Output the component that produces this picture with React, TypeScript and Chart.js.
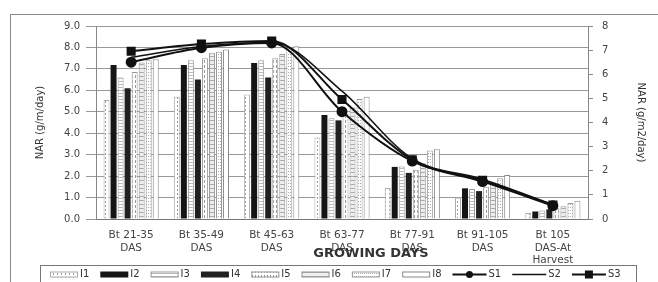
import React, { useEffect, useRef } from "react";
import { Chart, registerables } from "chart.js";
Chart.register(...registerables);

const categories: string[][] = [
  ["Bt 21-35", "DAS"],
  ["Bt 35-49", "DAS"],
  ["Bt 45-63", "DAS"],
  ["Bt 63-77", "DAS"],
  ["Bt 77-91", "DAS"],
  ["Bt 91-105", "DAS"],
  ["Bt 105", "DAS-At", "Harvest"],
];
const I1 = [5.55, 5.7, 5.8, 3.8, 1.45, 1.0, 0.28];
const I2 = [7.18, 7.18, 7.27, 4.85, 2.43, 1.43, 0.35];
const I3 = [6.6, 7.4, 7.4, 4.7, 2.45, 1.4, 0.4];
const I4 = [6.1, 6.5, 6.6, 4.6, 2.15, 1.3, 0.45];
const I5 = [6.85, 7.5, 7.5, 4.9, 2.3, 1.5, 0.5];
const I6 = [7.3, 7.75, 7.7, 5.2, 2.6, 1.7, 0.6];
const I7 = [7.4, 7.8, 8.0, 5.6, 3.2, 1.9, 0.75];
const I8 = [7.45, 7.9, 8.05, 5.7, 3.25, 2.05, 0.85];
const S1 = [6.5, 7.1, 7.3, 4.45, 2.4, 1.55, 0.55];
const S2 = [6.7, 7.15, 7.32, 5.3, 2.5, 1.65, 0.6];
const S3 = [6.95, 7.25, 7.38, 4.95, 2.45, 1.6, 0.58];
const leftTicks = [0, 1, 2, 3, 4, 5, 6, 7, 8, 9];
const rightTicks = [0, 1, 2, 3, 4, 5, 6, 7, 8];
const xTitle = "GROWING DAYS";
const yTitle = "NAR (g/m/day)";
const y1Title = "NAR (g/m2/day)";

const FONT = "'DejaVu Sans', sans-serif";

function makePattern(w: number, h: number, draw: (c: CanvasRenderingContext2D) => void) {
  const cv = document.createElement("canvas");
  cv.width = w;
  cv.height = h;
  const c = cv.getContext("2d")!;
  draw(c);
  return c.createPattern(cv, "repeat")!;
}

export default function App() {
  const ref = useRef<HTMLCanvasElement | null>(null);
  useEffect(() => {
    if (!ref.current) return;
    const pDots = makePattern(4, 4, (c) => {
      c.fillStyle = "#fff"; c.fillRect(0, 0, 4, 4);
      c.fillStyle = "#999"; c.fillRect(1, 1, 1, 2);
    });
    const pStripe = makePattern(4, 3, (c) => {
      c.fillStyle = "#fff"; c.fillRect(0, 0, 4, 3);
      c.fillStyle = "#bbb"; c.fillRect(0, 0, 4, 1);
    });
    const pDash = makePattern(3, 5, (c) => {
      c.fillStyle = "#fff"; c.fillRect(0, 0, 3, 5);
      c.fillStyle = "#999"; c.fillRect(0, 0, 1, 3);
    });
    const pLadder = makePattern(4, 4, (c) => {
      c.fillStyle = "#eee"; c.fillRect(0, 0, 4, 4);
      c.fillStyle = "#aaa"; c.fillRect(0, 0, 4, 1);
    });
    const pFine = makePattern(2, 3, (c) => {
      c.fillStyle = "#fff"; c.fillRect(0, 0, 2, 3);
      c.fillStyle = "#aaa"; c.fillRect(0, 0, 1, 1);
    });

    const bar = (label: string, data: number[], bg: any, border: string, bw: number) => ({
      type: "bar" as const,
      label,
      data,
      backgroundColor: bg,
      borderColor: border,
      borderWidth: bw,
      yAxisID: "y",
      order: 2,
      categoryPercentage: 0.8,
      barPercentage: 0.85,
    });
    const line = (label: string, data: number[], style: any, radius: number, width: number) => ({
      type: "line" as const,
      label,
      data,
      borderColor: "#111",
      backgroundColor: "#111",
      borderWidth: width,
      pointStyle: style,
      pointRadius: radius,
      pointBackgroundColor: "#111",
      pointBorderColor: "#111",
      yAxisID: "y1",
      cubicInterpolationMode: "monotone",
      order: 0,
    });

    const frame = {
      id: "frame",
      beforeDraw(chart: any) {
        const ctx = chart.ctx;
        ctx.save();
        ctx.fillStyle = "#fff";
        ctx.fillRect(0, 0, chart.width, chart.height);
        ctx.strokeStyle = "#888";
        ctx.lineWidth = 1;
        ctx.strokeRect(10.5, 14.5, 700, 300);
        ctx.restore();
      },
      afterDraw(chart: any) {
        const ctx = chart.ctx;
        ctx.save();
        ctx.font = "bold 13px " + FONT;
        ctx.fillStyle = "#333";
        ctx.textAlign = "center";
        ctx.textBaseline = "middle";
        ctx.fillText(xTitle, 371, 254);
        ctx.strokeStyle = "#777";
        ctx.lineWidth = 1;
        ctx.strokeRect(40.5, 265.5, 596, 30);
        ctx.font = "10px " + FONT;
        ctx.textAlign = "left";
        let x = 50;
        const cy = 274.5;
        chart.data.datasets.forEach((ds: any) => {
          if (ds.type === "bar") {
            ctx.fillStyle = ds.backgroundColor;
            ctx.fillRect(x, cy - 3, 28, 6);
            if (ds.borderWidth) {
              ctx.strokeStyle = ds.borderColor;
              ctx.strokeRect(x + 0.5, cy - 2.5, 27, 5);
            }
            x += 30;
          } else {
            ctx.strokeStyle = "#111";
            ctx.lineWidth = ds.borderWidth;
            ctx.beginPath();
            ctx.moveTo(x, cy);
            ctx.lineTo(x + 34, cy);
            ctx.stroke();
            ctx.fillStyle = "#111";
            if (ds.pointStyle === "circle" && ds.pointRadius) {
              ctx.beginPath();
              ctx.arc(x + 17, cy, 3.5, 0, Math.PI * 2);
              ctx.fill();
            } else if (ds.pointStyle === "rect" && ds.pointRadius) {
              ctx.fillRect(x + 13, cy - 4, 8, 8);
            }
            x += 36;
          }
          ctx.fillStyle = "#333";
          ctx.fillText(ds.label, x, cy);
          x += ctx.measureText(ds.label).width + 11;
        });
        ctx.restore();
      },
    };

    const chart = new Chart(ref.current, {
      data: {
        labels: categories,
        datasets: [
          bar("I1", I1, pDots, "#aaa", 1),
          bar("I2", I2, "#151515", "#151515", 0),
          bar("I3", I3, pStripe, "#999", 1),
          bar("I4", I4, "#202020", "#202020", 0),
          bar("I5", I5, pDash, "#999", 1),
          bar("I6", I6, pLadder, "#999", 1),
          bar("I7", I7, pFine, "#999", 1),
          bar("I8", I8, "#fff", "#888", 1),
          line("S1", S1, "circle", 4.5, 2),
          line("S2", S2, false, 0, 1.5),
          line("S3", S3, "rect", 5, 2),
        ] as any,
      },
      options: {
        animation: false,
        responsive: false,
        layout: { padding: { top: 26, left: 0, right: 0, bottom: 0 } },
        plugins: { legend: { display: false }, tooltip: { enabled: false } },
        scales: {
          x: {
            grid: { display: false, drawTicks: false },
            border: { color: "#777" },
            ticks: { font: { family: FONT, size: 10.5 }, color: "#444", padding: 10, maxRotation: 0, autoSkip: false },
            afterFit: (s: any) => { s.height = 63; },
          },
          y: {
            position: "left",
            min: 0,
            max: 9,
            afterBuildTicks: (s: any) => { s.ticks = leftTicks.map((v) => ({ value: v })); },
            ticks: { font: { family: FONT, size: 10 }, color: "#444", padding: 6, callback: (v: any) => Number(v).toFixed(1) },
            grid: { color: "#999", tickLength: 10 },
            border: { color: "#888" },
            title: { display: true, text: yTitle, font: { family: FONT, size: 10 }, color: "#333", padding: { top: 34, bottom: 0 } },
            afterFit: (s: any) => { s.width = 96; },
          },
          y1: {
            position: "right",
            min: 0,
            max: 8,
            afterBuildTicks: (s: any) => { s.ticks = rightTicks.map((v) => ({ value: v })); },
            ticks: { font: { family: FONT, size: 10 }, color: "#444", padding: 9 },
            grid: { drawOnChartArea: false, color: "#888", tickLength: 5 },
            border: { color: "#888" },
            title: { display: true, text: y1Title, font: { family: FONT, size: 10 }, color: "#333", padding: { top: 11, bottom: 0 } },
            afterFit: (s: any) => { s.width = 70; },
          },
        },
      } as any,
      plugins: [frame],
    });
    return () => chart.destroy();
  }, []);
  return (
    <div style={{ position: "absolute", left: 0, top: 0, width: 658, height: 282 }}>
      <canvas ref={ref} width={658} height={282} style={{ display: "block" }} />
    </div>
  );
}
